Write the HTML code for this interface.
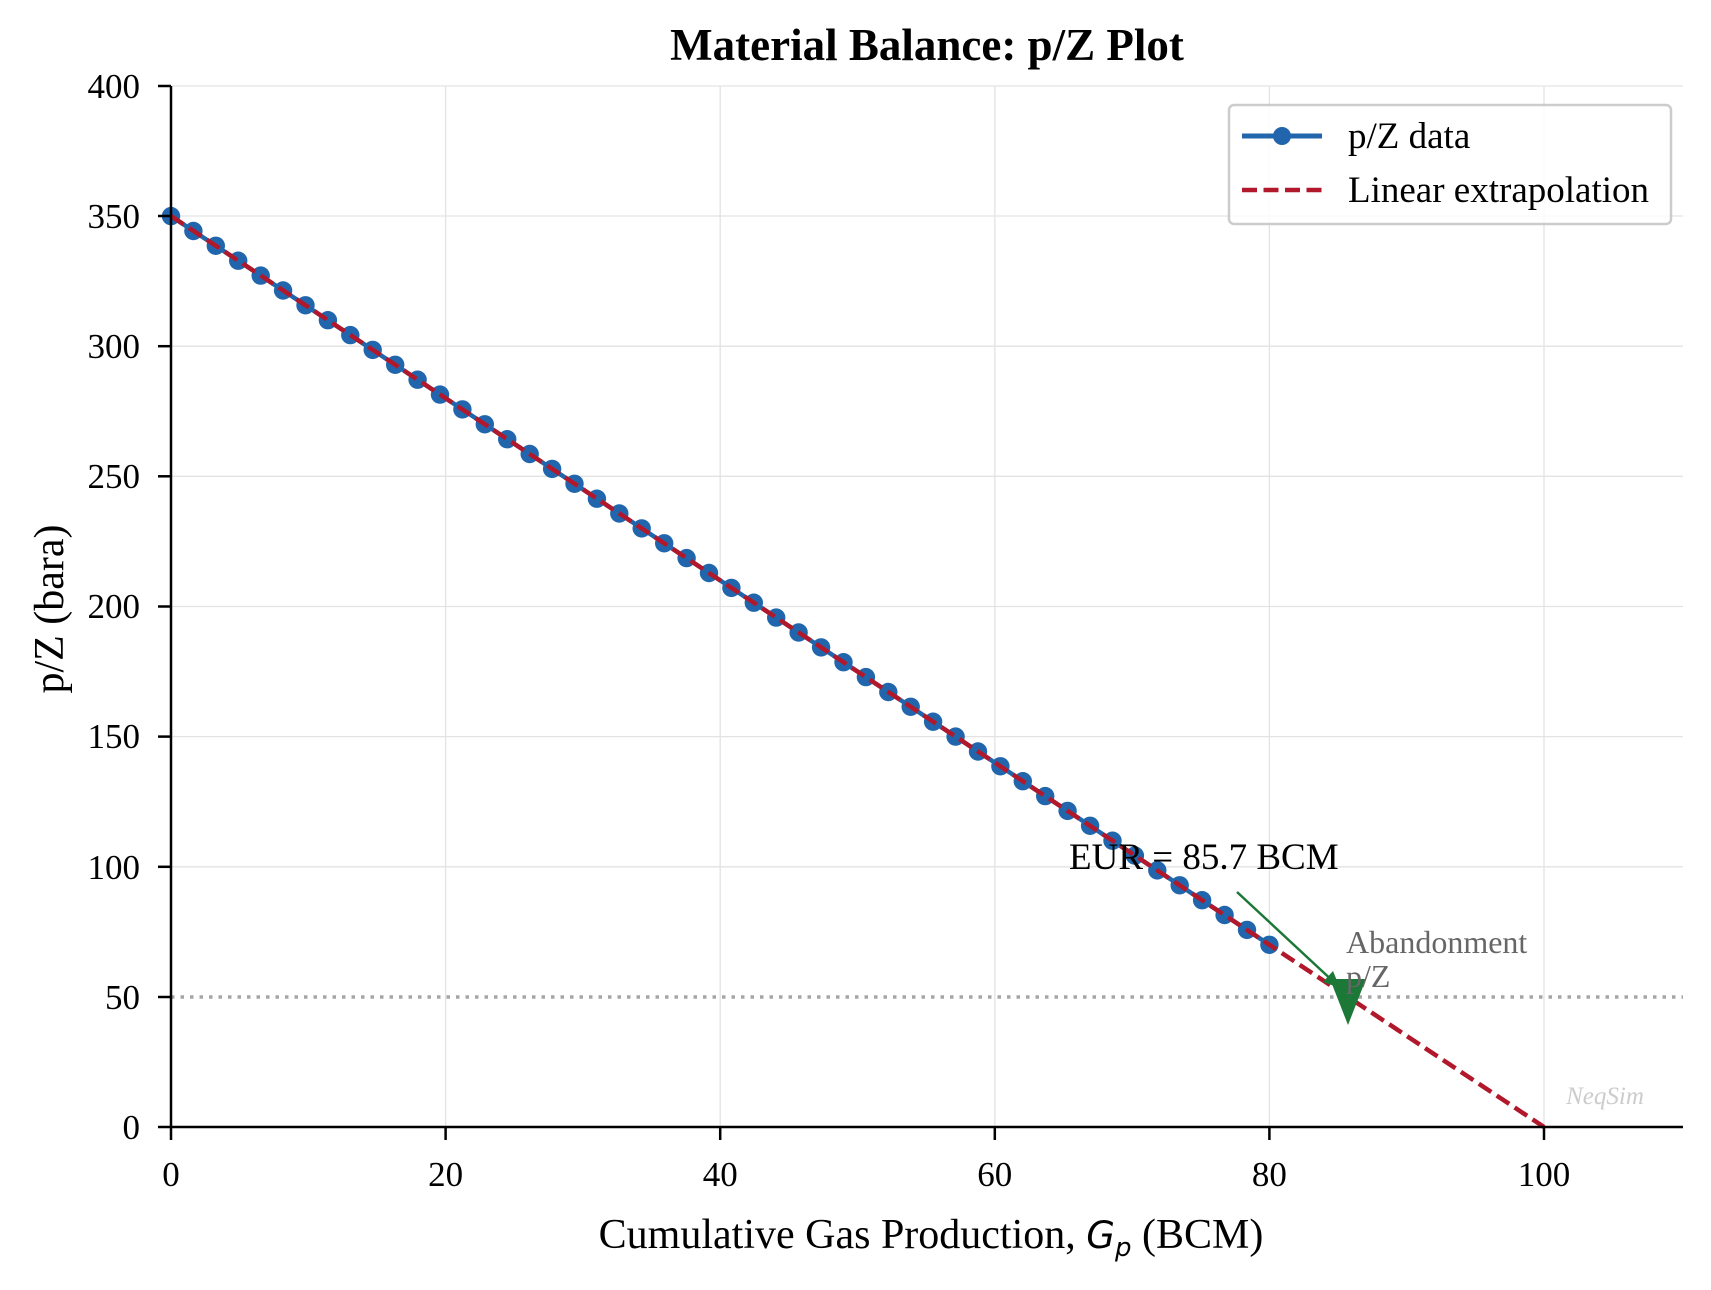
<!DOCTYPE html>
<html><head><meta charset="utf-8"><style>body{margin:0;background:#fff}</style></head><body>
<svg width="1711" height="1285" xmlns="http://www.w3.org/2000/svg" font-family="Liberation Serif, serif">
<defs><marker id="m" markerWidth="22" markerHeight="22" refX="11" refY="11" markerUnits="userSpaceOnUse"><circle cx="11" cy="11" r="9.2" fill="#2166ac"/></marker></defs>
<rect width="1711" height="1285" fill="#fff"/>
<g stroke="#e3e3e3" stroke-width="1.3">
<line x1="445.6" y1="86" x2="445.6" y2="1127"/><line x1="720.2" y1="86" x2="720.2" y2="1127"/><line x1="994.8" y1="86" x2="994.8" y2="1127"/><line x1="1269.4" y1="86" x2="1269.4" y2="1127"/><line x1="1544" y1="86" x2="1544" y2="1127"/>
<line x1="171" y1="86" x2="1683" y2="86"/><line x1="171" y1="216" x2="1683" y2="216"/><line x1="171" y1="346.2" x2="1683" y2="346.2"/><line x1="171" y1="476.3" x2="1683" y2="476.3"/><line x1="171" y1="606.5" x2="1683" y2="606.5"/><line x1="171" y1="736.6" x2="1683" y2="736.6"/><line x1="171" y1="866.8" x2="1683" y2="866.8"/>
</g>
<line x1="171" y1="997" x2="1683" y2="997" stroke="#a6a6a6" stroke-width="3.5" stroke-dasharray="3.5,6"/>
<polyline fill="none" stroke="#2166ac" stroke-width="4.5" marker-start="url(#m)" marker-mid="url(#m)" marker-end="url(#m)" points="171.0,216.1 193.4,231.0 215.8,245.8 238.2,260.7 260.7,275.6 283.1,290.5 305.5,305.3 327.9,320.2 350.3,335.1 372.7,349.9 395.2,364.8 417.6,379.7 440.0,394.6 462.4,409.4 484.8,424.3 507.2,439.2 529.7,454.0 552.1,468.9 574.5,483.8 596.9,498.7 619.3,513.5 641.7,528.4 664.2,543.3 686.6,558.1 709.0,573.0 731.4,587.9 753.8,602.7 776.2,617.6 798.6,632.5 821.1,647.4 843.5,662.2 865.9,677.1 888.3,692.0 910.7,706.8 933.1,721.7 955.6,736.6 978.0,751.5 1000.4,766.3 1022.8,781.2 1045.2,796.1 1067.6,810.9 1090.1,825.8 1112.5,840.7 1134.9,855.6 1157.3,870.4 1179.7,885.3 1202.1,900.2 1224.6,915.0 1247.0,929.9 1269.4,944.8"/>
<line x1="171" y1="216" x2="1544" y2="1127" stroke="#b2182b" stroke-width="4.5" stroke-dasharray="15,6.5"/>
<line x1="1237" y1="892" x2="1336" y2="984" stroke="#1b7837" stroke-width="2.5"/>
<polygon points="1323,982 1340,988 1333,971" fill="#1b7837"/>
<polygon points="1330,979 1366,979 1348,1025" fill="#1b7837"/>
<text x="1069" y="869" font-size="37">EUR = 85.7 BCM</text>
<text x="1346" y="953" font-size="32" fill="#666">Abandonment</text>
<text x="1346" y="987" font-size="32" fill="#666">p/Z</text>
<text x="1605" y="1104" font-size="25" fill="#ccc" font-style="italic" text-anchor="middle">NeqSim</text>
<g stroke="#000" stroke-width="2.5">
<line x1="171" y1="86" x2="171" y2="1127"/><line x1="170" y1="1127" x2="1683" y2="1127"/>
<line x1="171" y1="1127" x2="171" y2="1140"/><line x1="445.6" y1="1127" x2="445.6" y2="1140"/><line x1="720.2" y1="1127" x2="720.2" y2="1140"/><line x1="994.8" y1="1127" x2="994.8" y2="1140"/><line x1="1269.4" y1="1127" x2="1269.4" y2="1140"/><line x1="1544" y1="1127" x2="1544" y2="1140"/>
<line x1="158" y1="86" x2="171" y2="86"/><line x1="158" y1="216" x2="171" y2="216"/><line x1="158" y1="346.2" x2="171" y2="346.2"/><line x1="158" y1="476.3" x2="171" y2="476.3"/><line x1="158" y1="606.5" x2="171" y2="606.5"/><line x1="158" y1="736.6" x2="171" y2="736.6"/><line x1="158" y1="866.8" x2="171" y2="866.8"/><line x1="158" y1="997" x2="171" y2="997"/><line x1="158" y1="1127" x2="171" y2="1127"/>
</g>
<g font-size="35" text-anchor="middle">
<text x="171" y="1186">0</text><text x="445.6" y="1186">20</text><text x="720.2" y="1186">40</text><text x="994.8" y="1186">60</text><text x="1269.4" y="1186">80</text><text x="1544" y="1186">100</text>
</g>
<g font-size="35" text-anchor="end">
<text x="140" y="98">400</text><text x="140" y="228">350</text><text x="140" y="358">300</text><text x="140" y="488">250</text><text x="140" y="618">200</text><text x="140" y="748">150</text><text x="140" y="879">100</text><text x="140" y="1009">50</text><text x="140" y="1139">0</text>
</g>
<text x="931" y="1248" font-size="42" text-anchor="middle">Cumulative Gas Production, <tspan font-family="DejaVu Sans, sans-serif" font-style="italic" font-size="37">G</tspan><tspan font-family="DejaVu Sans, sans-serif" font-style="italic" font-size="26" dy="8">p</tspan><tspan dy="-8"> (BCM)</tspan></text>
<text transform="translate(63,609) rotate(-90)" font-size="42" text-anchor="middle">p/Z (bara)</text>
<text x="927" y="60" font-size="45" font-weight="bold" text-anchor="middle">Material Balance: p/Z Plot</text>
<rect x="1229" y="105" width="442" height="119" rx="5" fill="#fff" fill-opacity="0.85" stroke="#ccc" stroke-width="2.5"/>
<line x1="1242" y1="136" x2="1322" y2="136" stroke="#2166ac" stroke-width="5"/><circle cx="1282" cy="136" r="9" fill="#2166ac"/>
<line x1="1242" y1="190" x2="1322" y2="190" stroke="#b2182b" stroke-width="4.5" stroke-dasharray="15,6.5"/>
<text x="1348" y="148" font-size="37">p/Z data</text>
<text x="1348" y="202" font-size="37">Linear extrapolation</text>
</svg>
</body></html>
